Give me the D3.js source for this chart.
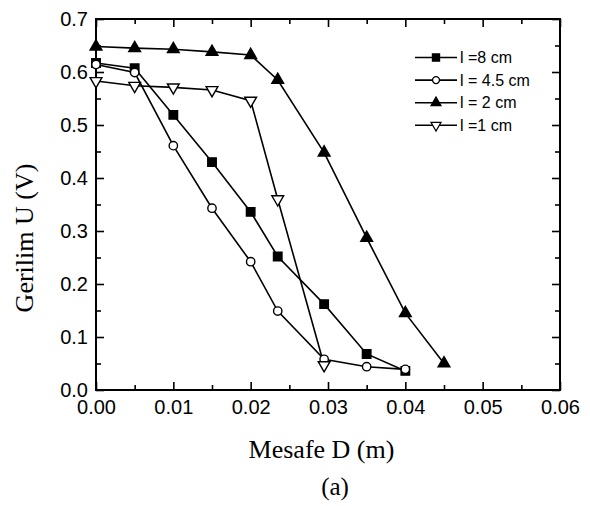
<!DOCTYPE html>
<html>
<head>
<meta charset="utf-8">
<script src="https://cdn.jsdelivr.net/npm/d3@7"></script>
<style>
  html, body { margin: 0; padding: 0; background: #fff; }
  svg { display: block; }
</style>
</head>
<body>
<svg id="chart" width="590" height="506"></svg>
<script>
// Distance D (m) at which each series was measured
const distance = [0, 0.005, 0.01, 0.015, 0.02, 0.0235, 0.0295, 0.035, 0.04, 0.045];

// Voltage U (V) for each electrode length l
const voltage8cm  = [0.617, 0.607, 0.519, 0.430, 0.336, 0.252, 0.162, 0.068, 0.036];
const voltage45cm = [0.614, 0.599, 0.461, 0.343, 0.242, 0.149, 0.058, 0.044, 0.039];
const voltage2cm  = [0.648, 0.645, 0.643, 0.638, 0.632, 0.585, 0.448, 0.287, 0.145, 0.050];
const voltage1cm  = [0.583, 0.574, 0.571, 0.566, 0.546, 0.360, 0.047];

const seriesLabels = ["l =8 cm", "l = 4.5 cm", "l = 2 cm", "l =1 cm"];
const xTicks = [0, 0.01, 0.02, 0.03, 0.04, 0.05, 0.06];
const yTicks = [0, 0.1, 0.2, 0.3, 0.4, 0.5, 0.6, 0.7];

const xTitle = "Mesafe D (m)";
const yTitle = "Gerilim U (V)";
const caption = "(a)";

const svg = d3.select("#chart");
const plotLeft = 96, plotRight = 560, plotTop = 19, plotBottom = 390;

const x = d3.scaleLinear().domain([0, 0.06]).range([plotLeft, plotRight]);
const y = d3.scaleLinear().domain([0, 0.7]).range([plotBottom, plotTop]);

const sansFont = "'Liberation Sans', Arial, sans-serif";
const serifFont = "'Liberation Serif', 'Times New Roman', serif";

// Minor ticks at half steps
const xMinor = d3.range(0.005, 0.06, 0.01);
const yMinor = d3.range(0.05, 0.7, 0.1);

// Axes with inward ticks
function styleAxis(g) {
  g.select(".domain").remove();
  g.selectAll("line").attr("stroke", "#000").attr("stroke-width", 1.6);
}

svg.append("g").attr("transform", `translate(0,${plotBottom})`)
  .call(d3.axisBottom(x).tickValues(xTicks).tickSize(-8).tickPadding(10).tickFormat(d3.format(".2f")))
  .call(styleAxis)
  .call(g => g.selectAll("text").attr("font-family", sansFont).attr("font-size", 20).attr("fill", "#000"));
svg.append("g").attr("transform", `translate(0,${plotBottom})`)
  .call(d3.axisBottom(x).tickValues(xMinor).tickSize(-5).tickFormat(""))
  .call(styleAxis);

svg.append("g").attr("transform", `translate(0,${plotTop})`)
  .call(d3.axisTop(x).tickValues(xTicks).tickSize(-8).tickFormat(""))
  .call(styleAxis);
svg.append("g").attr("transform", `translate(0,${plotTop})`)
  .call(d3.axisTop(x).tickValues(xMinor).tickSize(-5).tickFormat(""))
  .call(styleAxis);

svg.append("g").attr("transform", `translate(${plotLeft},0)`)
  .call(d3.axisLeft(y).tickValues(yTicks).tickSize(-8).tickPadding(8).tickFormat(d3.format(".1f")))
  .call(styleAxis)
  .call(g => g.selectAll("text").attr("font-family", sansFont).attr("font-size", 20).attr("fill", "#000"));
svg.append("g").attr("transform", `translate(${plotLeft},0)`)
  .call(d3.axisLeft(y).tickValues(yMinor).tickSize(-5).tickFormat(""))
  .call(styleAxis);

svg.append("g").attr("transform", `translate(${plotRight},0)`)
  .call(d3.axisRight(y).tickValues(yTicks).tickSize(-8).tickFormat(""))
  .call(styleAxis);
svg.append("g").attr("transform", `translate(${plotRight},0)`)
  .call(d3.axisRight(y).tickValues(yMinor).tickSize(-5).tickFormat(""))
  .call(styleAxis);

// Plot frame
svg.append("rect")
  .attr("x", plotLeft).attr("y", plotTop)
  .attr("width", plotRight - plotLeft).attr("height", plotBottom - plotTop)
  .attr("fill", "none").attr("stroke", "#000").attr("stroke-width", 2);

// Series definitions: marker shape, fill, rotation
const series = [
  { values: voltage8cm,  symbol: d3.symbolSquare,   size: 72, fill: "#000", rotate: 0 },
  { values: voltage45cm, symbol: d3.symbolCircle,   size: 55, fill: "#fff", rotate: 0 },
  { values: voltage2cm,  symbol: d3.symbolTriangle, size: 60, fill: "#000", rotate: 0 },
  { values: voltage1cm,  symbol: d3.symbolTriangle, size: 60, fill: "#fff", rotate: 180 }
];

const line = d3.line().x(d => x(d[0])).y(d => y(d[1]));

series.forEach(s => {
  const pts = s.values.map((v, i) => [distance[i], v]);
  svg.append("path")
    .attr("d", line(pts))
    .attr("fill", "none").attr("stroke", "#000").attr("stroke-width", 1.6);
});

series.forEach(s => {
  const pts = s.values.map((v, i) => [distance[i], v]);
  svg.append("g").selectAll("path").data(pts).join("path")
    .attr("d", d3.symbol().type(s.symbol).size(s.size))
    .attr("transform", d => `translate(${x(d[0])},${y(d[1])}) rotate(${s.rotate})`)
    .attr("fill", s.fill).attr("stroke", "#000").attr("stroke-width", 1.4);
});

// Legend
const legend = svg.append("g");
const legX0 = 415, legX1 = 457, legMid = 436, legTextX = 460, legY0 = 57.5, legDy = 22.6;
series.forEach((s, i) => {
  const yy = legY0 + i * legDy;
  legend.append("line").attr("x1", legX0).attr("x2", legX1).attr("y1", yy).attr("y2", yy)
    .attr("stroke", "#000").attr("stroke-width", 1.6);
  legend.append("path")
    .attr("d", d3.symbol().type(s.symbol).size(s.size * 0.7))
    .attr("transform", `translate(${legMid},${yy}) rotate(${s.rotate})`)
    .attr("fill", s.fill).attr("stroke", "#000").attr("stroke-width", 1.3);
  legend.append("text").attr("x", legTextX).attr("y", yy).attr("dy", "0.35em")
    .attr("font-family", sansFont).attr("font-size", 16).attr("fill", "#000")
    .text(seriesLabels[i]);
});

// Axis titles and caption
svg.append("text")
  .attr("x", 321.5).attr("y", 458).attr("text-anchor", "middle")
  .attr("font-family", serifFont).attr("font-size", 26).attr("fill", "#000")
  .text(xTitle);

svg.append("text")
  .attr("transform", "translate(33,238) rotate(-90)").attr("text-anchor", "middle")
  .attr("font-family", serifFont).attr("font-size", 26).attr("fill", "#000")
  .text(yTitle);

svg.append("text")
  .attr("x", 335).attr("y", 495).attr("text-anchor", "middle")
  .attr("font-family", serifFont).attr("font-size", 25).attr("fill", "#000")
  .text(caption);
</script>
</body>
</html>
